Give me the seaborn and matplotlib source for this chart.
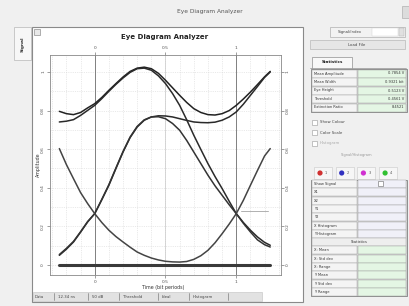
"""
Eye Diagram Analyzer screenshot, redrawn with seaborn + matplotlib patches.
"""
import numpy as np
import pandas as pd
import matplotlib
matplotlib.use('Agg')
import matplotlib.pyplot as plt
import matplotlib.patches as mpatches
import seaborn as sns

W, H = 410, 306

# time axis (bit periods) shared by all traces
time_bits = [-0.25, -0.2, -0.15, -0.1, -0.05, 0.0, 0.05, 0.1, 0.15, 0.2, 0.25, 0.3, 0.35, 0.4, 0.45,
             0.5, 0.55, 0.6, 0.65, 0.7, 0.75, 0.8, 0.85, 0.9, 0.95, 1.0, 1.05, 1.1, 1.15, 1.2, 1.24]

# amplitude of each trace
trace_top = [0.796, 0.784, 0.779, 0.790, 0.814, 0.836, 0.868, 0.905, 0.940, 0.974, 1.003, 1.020, 1.025, 1.017, 0.993,
             0.957, 0.918, 0.879, 0.842, 0.810, 0.790, 0.779, 0.777, 0.784, 0.800, 0.827, 0.860, 0.896, 0.935, 0.975, 1.003]
trace_fall = [0.741, 0.745, 0.753, 0.775, 0.801, 0.827, 0.862, 0.900, 0.936, 0.969, 0.998, 1.017, 1.020, 1.009, 0.980,
              0.940, 0.888, 0.827, 0.752, 0.672, 0.598, 0.525, 0.458, 0.396, 0.330, 0.266, 0.220, 0.180, 0.145, 0.117, 0.102]
trace_hump = [0.050, 0.082, 0.119, 0.170, 0.223, 0.266, 0.338, 0.413, 0.500, 0.585, 0.660, 0.715, 0.750, 0.767, 0.773,
              0.772, 0.767, 0.758, 0.749, 0.741, 0.738, 0.737, 0.740, 0.750, 0.767, 0.793, 0.833, 0.879, 0.925, 0.972, 1.000]
trace_hump_fall = [0.054, 0.086, 0.122, 0.172, 0.225, 0.266, 0.340, 0.416, 0.503, 0.588, 0.663, 0.718, 0.752, 0.767, 0.768,
                   0.758, 0.733, 0.698, 0.645, 0.585, 0.525, 0.465, 0.410, 0.361, 0.312, 0.266, 0.216, 0.171, 0.130, 0.105, 0.093]
trace_bowl = [0.603, 0.520, 0.447, 0.375, 0.318, 0.266, 0.220, 0.180, 0.147, 0.119, 0.092, 0.067, 0.050, 0.036, 0.026,
              0.019, 0.016, 0.015, 0.018, 0.029, 0.048, 0.076, 0.115, 0.162, 0.212, 0.266, 0.335, 0.413, 0.490, 0.565, 0.603]
trace_zero = [0.0] * len(time_bits)

threshold_x = [1.035, 1.224]
threshold_y = [0.278, 0.278]

x_ticks = [0, 0.5, 1]
x_tick_labels = ['0', '0.5', '1']
y_ticks = [0, 0.2, 0.4, 0.6, 0.8, 1.0]
y_tick_labels = ['0', '0.2', '0.4', '0.6', '0.8', '1']

stats_labels = ['Mean Amplitude', 'Mean Width', 'Eye Height', 'Threshold', 'Extinction Ratio']
stats_values = ['0.7854 V', '0.9321 bit', '0.5123 V', '0.4561 V', '8.4521']
marker_colors = ['#d03030', '#3030c0', '#d030d0', '#30c030']
marker_names = ['1', '2', '3', '4']
cursor_rows = ['Show Signal', 'X1', 'X2', 'Y1', 'Y2', 'X Histogram', 'Y Histogram']
cursor_stats = ['X: Mean', 'X: Std dev', 'X: Range', 'Y: Mean', 'Y: Std dev', 'Y: Range']
status_items = ['Data', '12.34 ns', '50 dB', 'Threshold', 'Ideal', 'Histogram']

sns.set_theme(style='white')
plt.rcParams['font.family'] = ['DejaVu Sans']

fig = plt.figure(figsize=(W / 100, H / 100), dpi=100)
fig.patch.set_facecolor('#f0f0f0')

# full-figure pixel canvas for the GUI chrome
bg = fig.add_axes([0, 0, 1, 1])
bg.set_xlim(0, W)
bg.set_ylim(H, 0)
bg.axis('off')


def box(x0, y0, x1, y1, fc='white', ec='#a0a0a0', lw=0.5, z=1):
    bg.add_patch(mpatches.Rectangle((x0, y0), x1 - x0, y1 - y0, fc=fc, ec=ec, lw=lw, zorder=z))


def txt(x, y, s, size=3.0, color='#444444', **kw):
    bg.text(x, y, s, fontsize=size, color=color, va='center', **kw)


# window title bar
txt(210, 12, 'Eye Diagram Analyzer', size=4.2, color='#555555', ha='center')
box(402, 6, 409, 18, fc='#dcdcdc', ec='#b0b0b0')

# left vertical tab
box(14, 27, 31, 60, fc='#f7f7f7', ec='#b8b8b8')
txt(23, 44, 'Signal', size=3.2, color='#333333', ha='center', rotation=90, fontweight='bold')

# main white panel
box(32, 27, 303, 302, fc='white', ec='#8a8a8a', lw=0.8)
box(34, 29, 40, 35, fc='#e8e8e8', ec='#777777', lw=0.4, z=2)
txt(165, 37, 'Eye Diagram Analyzer', size=5.0, color='#222222', ha='center', fontweight='bold')
txt(163, 287, 'Time (bit periods)', size=3.4, color='#333333', ha='center')
txt(38, 165, 'Amplitude', size=3.4, color='#333333', ha='center', rotation=90)

# status bar
box(33, 292, 262, 301, fc='#e2e2e2', ec='#c0c0c0', lw=0.4, z=2)
sx = [35, 58, 92, 123, 162, 193]
for i, s in enumerate(status_items):
    txt(sx[i], 297, s, size=2.8, color='#444444', zorder=3)
    if i > 0:
        bg.plot([sx[i] - 4, sx[i] - 4], [293, 300], color='#808080', lw=0.5, zorder=3)
bg.plot([228, 228], [293, 300], color='#808080', lw=0.5, zorder=3)

# right control panel
box(330, 27, 405, 37, fc='#f2f2f2', ec='#b0b0b0')
box(372, 28, 398, 36, fc='white', ec='#d0d0d0', lw=0.3, z=2)
txt(350, 32, 'Signal/Index', size=2.8, ha='center', zorder=3)
box(399, 28, 404, 36, fc='#e0e0e0', ec='#b0b0b0', lw=0.3, z=2)
box(310, 40, 405, 49, fc='#e6e6e6', ec='#b8b8b8')
txt(357, 45, 'Load File', size=2.8, ha='center', zorder=3)
box(312, 57, 352, 68, fc='#f8f8f8', ec='#909090')
txt(332, 62, 'Statistics', size=2.9, color='#222222', ha='center', zorder=3, fontweight='bold')
bg.plot([310, 312], [68, 68], color='#909090', lw=0.5)
bg.plot([352, 406], [68, 68], color='#909090', lw=0.5)

# statistics table
box(311, 69, 407, 112, fc='#d8d8d8', ec='#808080', lw=0.6)
for i, (lab, val) in enumerate(zip(stats_labels, stats_values)):
    yc = 73.5 + i * 8.5
    box(312, yc - 4, 357, yc + 4, fc='#f4f4f4', ec='#9a9a9a', lw=0.3, z=2)
    box(358, yc - 4, 406, yc + 4, fc='#e4f6e4', ec='#9a9a9a', lw=0.3, z=2)
    txt(314, yc, lab, size=2.6, color='#333333', zorder=3)
    txt(404, yc, val, size=2.6, color='#333333', ha='right', zorder=3)

# checkboxes
for i, (lab, c) in enumerate(zip(['Show Colour', 'Color Scale', 'Histogram'], ['#444444', '#444444', '#aaaaaa'])):
    yc = 122 + i * 10.5
    box(312, yc - 2.5, 317, yc + 2.5, fc='white', ec='#999999', lw=0.4, z=2)
    txt(320, yc, lab, size=2.8, color=c, zorder=3)
txt(357, 155, 'Signal/Histogram', size=2.6, color='#999999', ha='center')

# colour marker row
for i, (c, n) in enumerate(zip(marker_colors, marker_names)):
    xc = 320 + i * 21.7
    box(xc - 6, 167, xc + 12, 179, fc='#f6f6f6', ec='#c8c8c8', lw=0.4, z=2)
    bg.add_patch(mpatches.Circle((xc, 173), 2.6, fc=c, ec='none', zorder=3))
    txt(xc + 5, 173, n, size=2.6, color='#555555', zorder=3)

# cursor table
box(311, 180, 407, 296, fc='#d8d8d8', ec='#808080', lw=0.6)
row_h = 8.3
for i, lab in enumerate(cursor_rows):
    yc = 184 + i * row_h
    box(312, yc - 4, 357, yc + 4, fc='#f4f4f4', ec='#9a9a9a', lw=0.3, z=2)
    box(358, yc - 4, 406, yc + 4, fc='#f0f0f8', ec='#9a9a9a', lw=0.3, z=2)
    txt(314, yc, lab, size=2.6, color='#333333', zorder=3)
box(378, 181, 383, 186, fc='white', ec='#666666', lw=0.4, z=3)
yc = 184 + 7 * row_h
box(312, yc - 4, 406, yc + 4, fc='#eeeeee', ec='#9a9a9a', lw=0.3, z=2)
txt(359, yc, 'Statistics', size=2.6, color='#333333', ha='center', zorder=3)
for i, lab in enumerate(cursor_stats):
    yc = 184 + (8 + i) * row_h
    box(312, yc - 4, 357, yc + 4, fc='#f4f4f4', ec='#9a9a9a', lw=0.3, z=2)
    box(358, yc - 4, 406, yc + 4, fc='#e4f6e4', ec='#9a9a9a', lw=0.3, z=2)
    txt(314, yc, lab, size=2.6, color='#333333', zorder=3)

# ---- eye diagram axes ----
ax = fig.add_axes([50 / W, 1 - 275 / H, (281 - 50) / W, (275 - 55) / H])
ax.set_facecolor('white')

traces = {
    'top': trace_top,
    'fall': trace_fall,
    'hump': trace_hump,
    'hump_fall': trace_hump_fall,
    'bowl': trace_bowl,
}
rows = []
for name, vals in traces.items():
    for t, v in zip(time_bits, vals):
        rows.append({'time': t, 'amp': v, 'trace': name})
df = pd.DataFrame(rows)

sns.lineplot(data=df, x='time', y='amp', hue='trace', estimator=None,
             palette={'top': '#222222', 'fall': '#2a2a2a', 'hump': '#2a2a2a',
                      'hump_fall': '#333333', 'bowl': '#444444'},
             linewidth=1.1, legend=False, ax=ax, zorder=4)
ax.plot(time_bits, trace_zero, color='#3a3a3a', lw=2.2, zorder=4)
ax.plot(threshold_x, threshold_y, color='#b0b0b0', lw=0.7, zorder=3)

ax.axvline(0, color='#808080', lw=0.7, zorder=2)
ax.axvline(1, color='#808080', lw=0.7, zorder=2)
ax.axvline(0.5, color='#c8c8c8', lw=0.5, zorder=2)

ax.set_xlim(-0.316, 1.316)
ax.set_ylim(-0.052, 1.088)
ax.set_xticks(x_ticks)
ax.set_xticklabels(x_tick_labels)
ax.set_yticks(y_ticks)
ax.set_yticklabels(y_tick_labels, rotation=90, va='center')
ax.set_xticks(np.arange(-0.3, 1.31, 0.1), minor=True)
ax.set_yticks(np.arange(-0.0, 1.09, 0.1), minor=True)
ax.grid(which='both', color='#d8d8d8', lw=0.4, ls=(0, (2, 2)))
ax.tick_params(axis='both', which='major', labelsize=3.2, colors='#555555',
               length=2, width=0.4, pad=1.5, direction='out')
ax.tick_params(which='minor', length=0)
ax.tick_params(axis='y', right=True, labelright=True, left=True)
ax.tick_params(axis='x', top=True, labeltop=True, bottom=True)
for lab in ax.get_yticklabels(which='major'):
    lab.set_rotation(90)
ax.set_xlabel('')
ax.set_ylabel('')
for sp in ax.spines.values():
    sp.set_color('#888888')
    sp.set_linewidth(0.6)

fig.savefig('out.png', dpi=100, facecolor=fig.get_facecolor())
